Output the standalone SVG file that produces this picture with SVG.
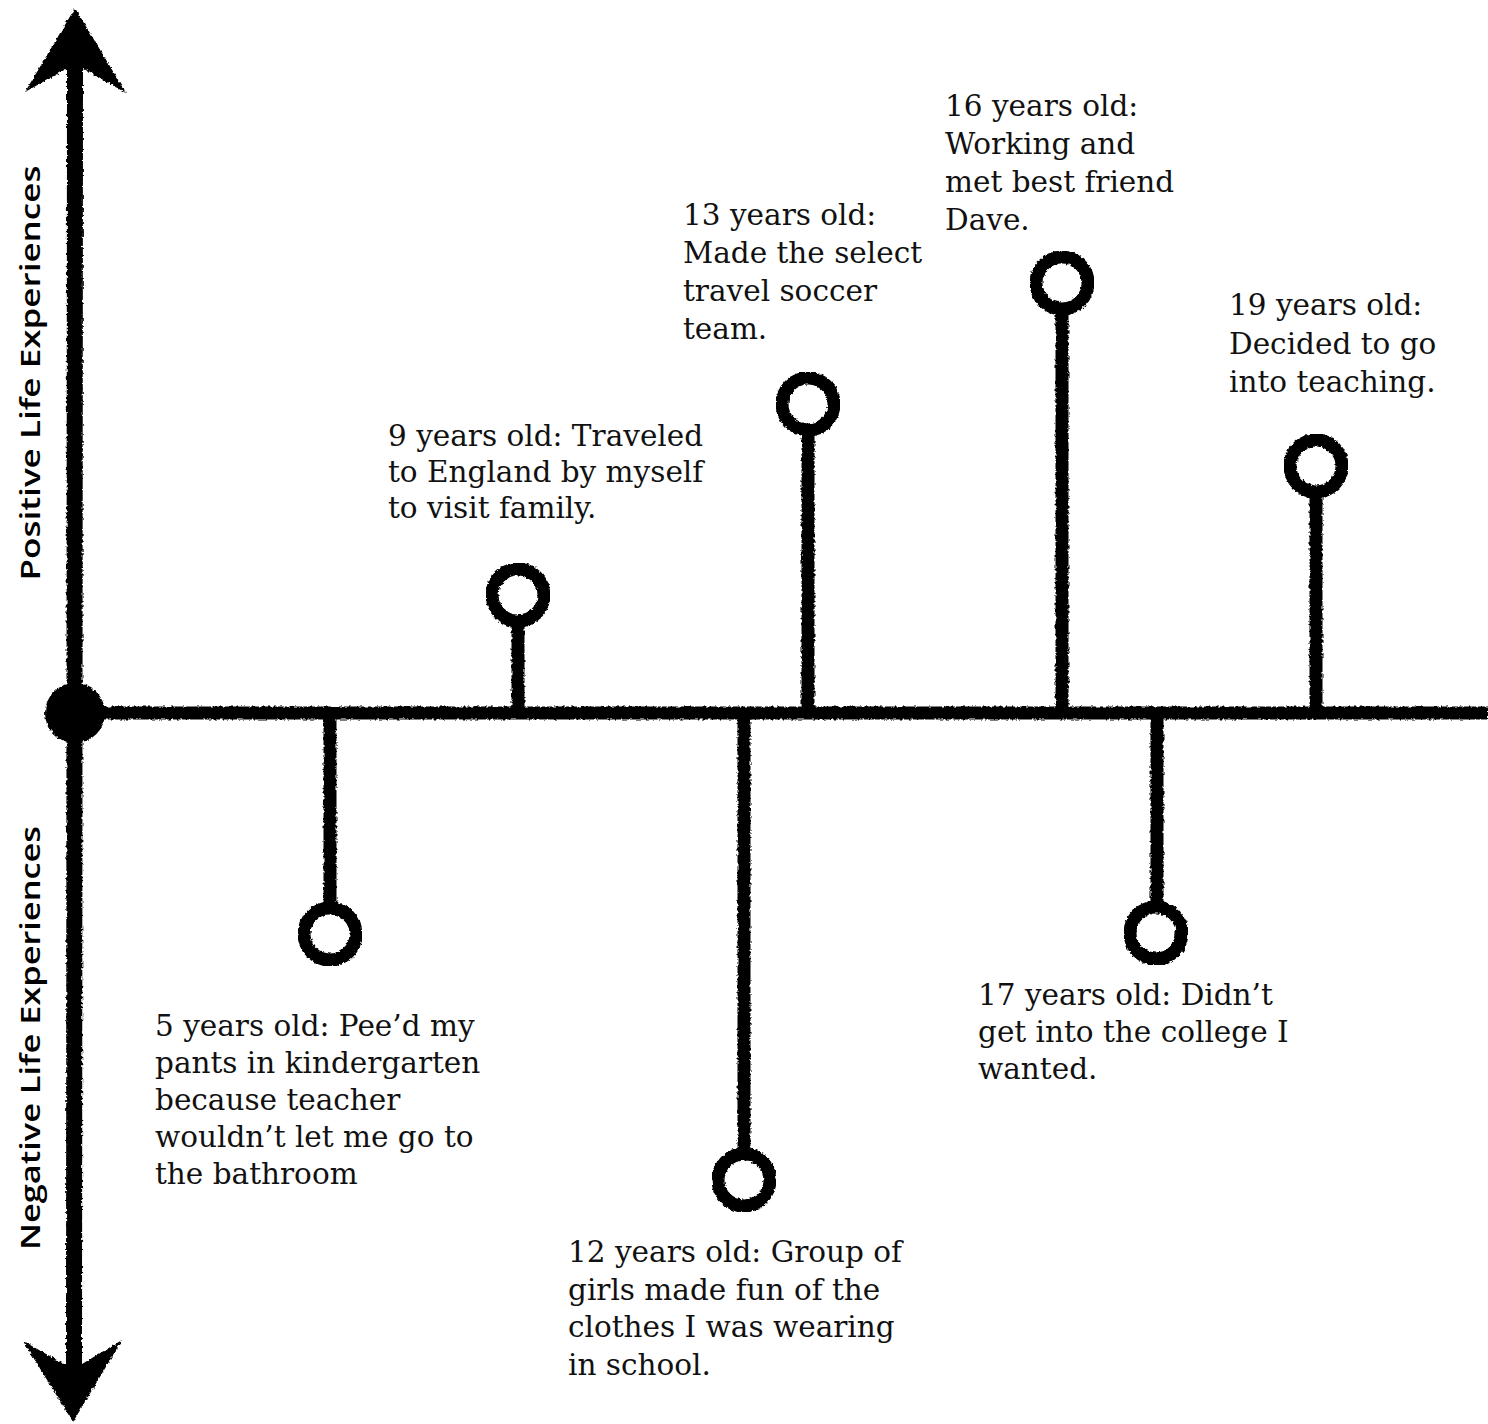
<svg xmlns="http://www.w3.org/2000/svg" width="1488" height="1424" viewBox="0 0 1488 1424">
  <style>
    .ink { stroke: #000; fill: none; stroke-linecap: butt; }
    .axis { stroke-width: 16; }
    .stem { stroke-width: 13; }
    .ring { stroke: #000; stroke-width: 13; fill: none; }
    .lbl { font-family: "DejaVu Serif", "Liberation Serif", serif; font-size: 29.5px; fill: #111; }
    .side { font-family: "Open Sans", "Liberation Sans", sans-serif; font-size: 27px; font-weight: 600; fill: #000; }
  </style>
  <defs>
    <filter id="rough" x="-10%" y="-10%" width="120%" height="120%">
      <feTurbulence type="fractalNoise" baseFrequency="0.35" numOctaves="2" seed="3" result="n"/>
      <feDisplacementMap in="SourceGraphic" in2="n" scale="4" xChannelSelector="R" yChannelSelector="G"/>
    </filter>
  </defs>
  <rect width="1488" height="1424" fill="#fff"/>

  <g id="axes" filter="url(#rough)">
    <line class="ink axis" x1="75" y1="60" x2="74" y2="1370"/>
    <path d="M75,8 L126,93 L84,69 L66,69 L25,92 Z" fill="#000"/>
    <path d="M73,1422 L122,1340 L82,1364 L64,1364 L23,1341 Z" fill="#000"/>
    <line class="ink" stroke-width="13" x1="75" y1="713" x2="1488" y2="713"/>
    <circle cx="75" cy="713" r="30" fill="#000"/>
  </g>

  <g id="connectors" filter="url(#rough)">
    <line class="ink stem" x1="330" y1="713" x2="330" y2="905"/>
    <line class="ink stem" x1="518" y1="713" x2="518" y2="622"/>
    <line class="ink stem" x1="744" y1="713" x2="744" y2="1152"/>
    <line class="ink stem" x1="808" y1="713" x2="808" y2="433"/>
    <line class="ink stem" x1="1062" y1="713" x2="1062" y2="310"/>
    <line class="ink stem" x1="1157" y1="713" x2="1157" y2="905"/>
    <line class="ink stem" x1="1316" y1="713" x2="1316" y2="495"/>
  </g>

  <g id="side-labels">
    <text class="side" transform="translate(40,373) rotate(-90)" text-anchor="middle" textLength="415" lengthAdjust="spacingAndGlyphs">Positive Life Experiences</text>
    <text class="side" transform="translate(40,1038) rotate(-90)" text-anchor="middle" textLength="424" lengthAdjust="spacingAndGlyphs">Negative Life Experiences</text>
  </g>

  <g id="node-5">
    <circle class="ring" cx="330" cy="934" r="26" filter="url(#rough)"/>
    <text class="lbl" x="155" y="1036">
      <tspan x="155">5 years old: Pee’d my</tspan>
      <tspan x="155" dy="37">pants in kindergarten</tspan>
      <tspan x="155" dy="37">because teacher</tspan>
      <tspan x="155" dy="37">wouldn’t let me go to</tspan>
      <tspan x="155" dy="37">the bathroom</tspan>
    </text>
  </g>

  <g id="node-9">
    <circle class="ring" cx="518" cy="595" r="26" filter="url(#rough)"/>
    <text class="lbl" x="388" y="446">
      <tspan x="388">9 years old: Traveled</tspan>
      <tspan x="388" dy="36">to England by myself</tspan>
      <tspan x="388" dy="36">to visit family.</tspan>
    </text>
  </g>

  <g id="node-12">
    <circle class="ring" cx="744" cy="1180" r="26" filter="url(#rough)"/>
    <text class="lbl" x="568" y="1262">
      <tspan x="568">12 years old: Group of</tspan>
      <tspan x="568" dy="37.5">girls made fun of the</tspan>
      <tspan x="568" dy="37.5">clothes I was wearing</tspan>
      <tspan x="568" dy="37.5">in school.</tspan>
    </text>
  </g>

  <g id="node-13">
    <circle class="ring" cx="808" cy="404" r="26" filter="url(#rough)"/>
    <text class="lbl" x="683" y="225">
      <tspan x="683">13 years old:</tspan>
      <tspan x="683" dy="38">Made the select</tspan>
      <tspan x="683" dy="38">travel soccer</tspan>
      <tspan x="683" dy="38">team.</tspan>
    </text>
  </g>

  <g id="node-16">
    <circle class="ring" cx="1062" cy="283" r="26" filter="url(#rough)"/>
    <text class="lbl" x="945" y="116">
      <tspan x="945">16 years old:</tspan>
      <tspan x="945" dy="38">Working and</tspan>
      <tspan x="945" dy="38">met best friend</tspan>
      <tspan x="945" dy="38">Dave.</tspan>
    </text>
  </g>

  <g id="node-17">
    <circle class="ring" cx="1156" cy="933" r="26" filter="url(#rough)"/>
    <text class="lbl" x="978" y="1005">
      <tspan x="978">17 years old: Didn’t</tspan>
      <tspan x="978" dy="37">get into the college I</tspan>
      <tspan x="978" dy="37">wanted.</tspan>
    </text>
  </g>

  <g id="node-19">
    <circle class="ring" cx="1316" cy="466" r="26" filter="url(#rough)"/>
    <text class="lbl" x="1229" y="315">
      <tspan x="1229">19 years old:</tspan>
      <tspan x="1229" dy="38.5">Decided to go</tspan>
      <tspan x="1229" dy="38.5">into teaching.</tspan>
    </text>
  </g>
</svg>
